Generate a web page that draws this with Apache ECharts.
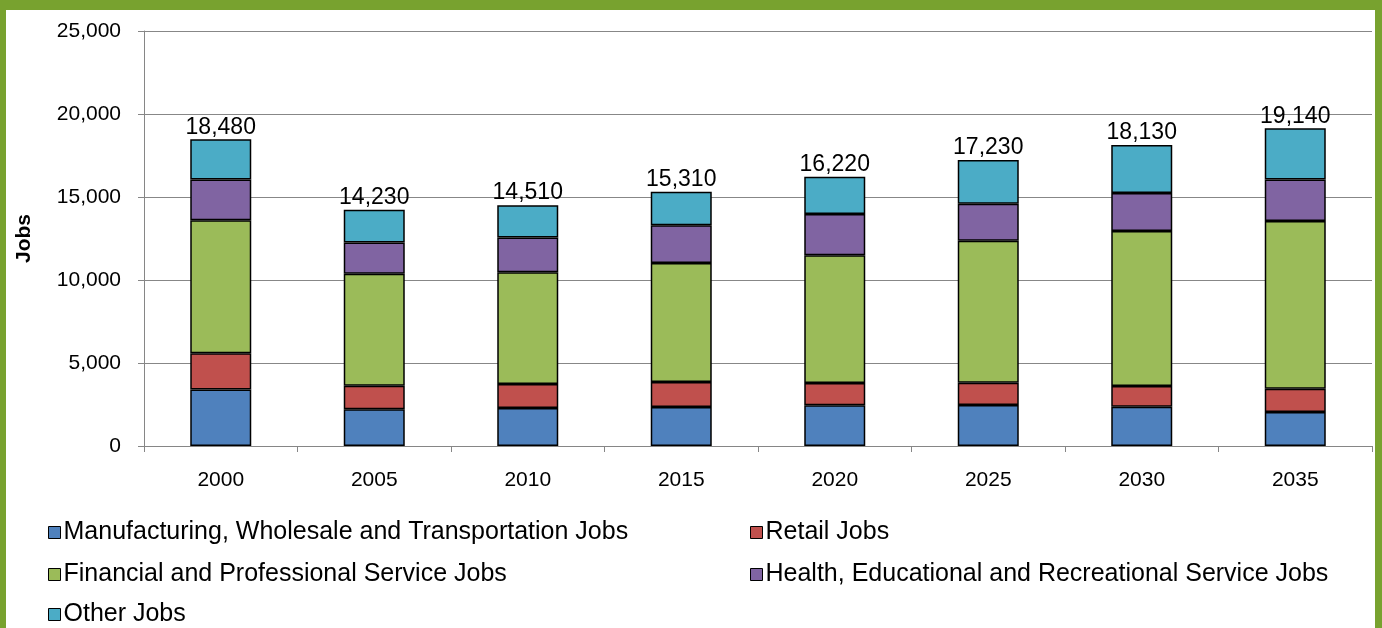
<!DOCTYPE html>
<html>
<head>
<meta charset="utf-8">
<script src="https://cdn.jsdelivr.net/npm/echarts@6/dist/echarts.min.js"></script>
<style>
  html, body { margin: 0; padding: 0; width: 1382px; height: 628px; background: #78A22F; overflow: hidden; }
  #chart { position: absolute; left: 6px; top: 10px; width: 1369px; height: 618px; background: #ffffff; }
</style>
</head>
<body>
<div id="chart"></div>
<script>
const categories = ['2000', '2005', '2010', '2015', '2020', '2025', '2030', '2035'];
const manufacturing = [3410, 2210, 2290, 2350, 2450, 2470, 2370, 2050];
const retail = [2170, 1420, 1440, 1500, 1340, 1340, 1250, 1400];
const financial = [8020, 6740, 6730, 7180, 7700, 8550, 9330, 10100];
const health = [2450, 1890, 2100, 2270, 2490, 2230, 2290, 2510];
const other = [2430, 1970, 1950, 2010, 2240, 2640, 2890, 3080];
const totals = [18480, 14230, 14510, 15310, 16220, 17230, 18130, 19140];
const yTicks = [0, 5000, 10000, 15000, 20000, 25000];

const names = [
  'Manufacturing, Wholesale and Transportation Jobs',
  'Retail Jobs',
  'Financial and Professional Service Jobs',
  'Health, Educational and Recreational Service Jobs',
  'Other Jobs'
];
const colors = ['#4F81BD', '#C0504D', '#9BBB59', '#8064A2', '#4BACC6'];
const dataSets = [manufacturing, retail, financial, health, other];

const fmt = v => v.toLocaleString('en-US');
const font = 'Arial, "Liberation Sans", sans-serif';

const series = dataSets.map((d, i) => {
  const s = {
    name: names[i],
    type: 'bar',
    stack: 'jobs',
    data: d,
    barWidth: 61,
    itemStyle: { color: colors[i], borderColor: '#000', borderWidth: 1.5 },
    emphasis: { disabled: true }
  };
  if (i === dataSets.length - 1) {
    s.label = {
      show: true,
      position: 'top',
      distance: 0,
      formatter: p => fmt(totals[p.dataIndex]),
      color: '#000',
      fontFamily: font,
      fontSize: 23,
      lineHeight: 24
    };
  }
  return s;
});

// legend slots: [series index, left, top] in a 2-column, 3-row arrangement
const legendSlots = [[0, 42, 510], [1, 744, 510], [2, 42, 552], [3, 744, 552], [4, 42, 592]];
const legends = legendSlots.map(([idx, left, top]) => ({
  data: [names[idx]],
  orient: 'horizontal',
  left: left, top: top,
  padding: 0,
  itemWidth: 12, itemHeight: 12,
  icon: 'rect',
  itemStyle: { borderColor: '#000', borderWidth: 1 },
  textStyle: { color: '#000', fontFamily: font, fontSize: 25, lineHeight: 24, padding: [0, 0, 0, -2] },
  selectedMode: false
}));

const chart = echarts.init(document.getElementById('chart'), null, { renderer: 'canvas' });
chart.setOption({
  animation: false,
  color: colors,
  grid: { left: 138, top: 21, right: 3, bottom: 182, containLabel: false },
  legend: legends,
  xAxis: {
    type: 'category',
    data: categories,
    boundaryGap: true,
    axisLine: { show: true, lineStyle: { color: '#868686', width: 1 } },
    axisTick: { show: true, alignWithLabel: false, length: 6, lineStyle: { color: '#868686' } },
    axisLabel: { color: '#000', fontFamily: font, fontSize: 21, margin: 24 },
    splitLine: { show: false }
  },
  yAxis: {
    type: 'value',
    min: yTicks[0],
    max: yTicks[yTicks.length - 1],
    interval: yTicks[1] - yTicks[0],
    name: 'Jobs',
    nameLocation: 'middle',
    nameGap: 109,
    nameRotate: 90,
    nameTextStyle: { color: '#000', fontFamily: font, fontSize: 21, fontWeight: 'bold' },
    axisLine: { show: true, lineStyle: { color: '#868686', width: 1 } },
    axisTick: { show: true, length: 6, lineStyle: { color: '#868686' } },
    axisLabel: { color: '#000', fontFamily: font, fontSize: 21, margin: 23, formatter: v => fmt(v) },
    splitLine: { show: true, lineStyle: { color: '#878787', width: 1 } }
  },
  series: series
});
</script>
</body>
</html>
